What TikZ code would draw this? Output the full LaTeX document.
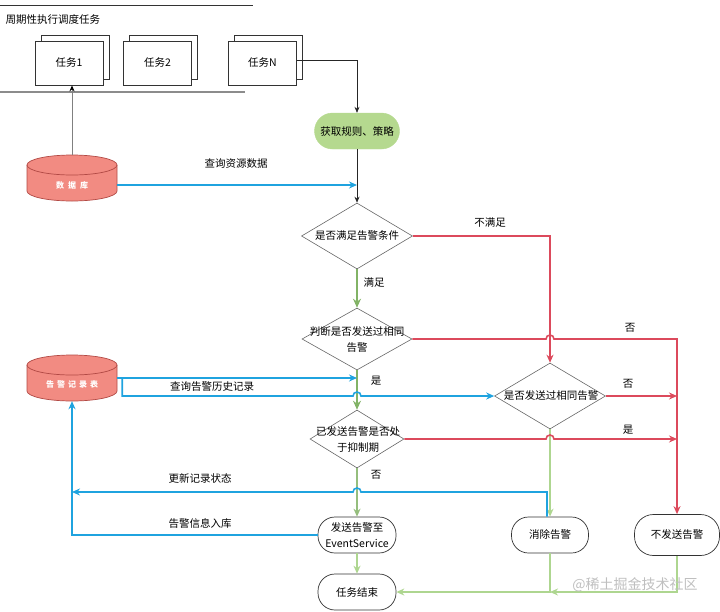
\documentclass[tikz,border=0pt]{standalone}
\usepackage{fontspec}
\setmainfont{Noto Sans CJK SC}
\usetikzlibrary{arrows.meta,shapes.geometric,shadows,calc}
\definecolor{cblue}{HTML}{1FA3DF}
\definecolor{cred}{HTML}{DC4A5C}
\definecolor{cgreen}{HTML}{82B366}
\definecolor{clgreen}{HTML}{AED690}
\definecolor{ccylf}{HTML}{F28B82}
\definecolor{ccyld}{HTML}{B24A45}
\definecolor{crule}{HTML}{B5D98F}
\begin{document}
\begin{tikzpicture}[x=1pt,y=-1pt,
  font=\fontsize{10.5}{16}\selectfont,
  task/.style={draw=black!80, fill=white, line width=0.6pt, minimum width=68pt, minimum height=44pt, inner sep=0pt,
    copy shadow={shadow xshift=6pt, shadow yshift=6pt, fill=white, draw=black!80, line width=0.6pt}},
  term/.style={draw=black!80, fill=white, line width=0.7pt, rounded corners=17pt, minimum width=78pt, minimum height=36pt, inner sep=1pt, align=center},
  dia/.style={diamond, draw=black!60, line width=0.6pt, inner sep=0pt},
  cylbody/.style={fill=ccylf, draw=ccyld, line width=0.7pt},
  cyltext/.style={text=white, font=\fontsize{8}{10}\selectfont\bfseries},
  blk/.style={black!85, line width=0.7pt, -{Stealth[length=6pt,width=5pt]}},
  bluel/.style={cblue, line width=1.6pt, -{Stealth[length=8pt,width=7pt]}},
  redl/.style={cred, line width=1.6pt, -{Stealth[length=8pt,width=7pt]}},
  greenT/.style={cgreen, line width=2.4pt, -{Stealth[length=9pt,width=8pt]}},
  greenM/.style={cgreen!85, line width=1.6pt, -{Stealth[length=8pt,width=7pt]}},
  lgreen/.style={clgreen, line width=1.6pt, -{Stealth[length=8pt,width=7pt]}},
  wm/.style={text=black!25, font=\fontsize{14}{16}\selectfont}
]
\useasboundingbox (0,0) rectangle (720,611);

% header
\draw[black!80, line width=0.7pt] (0,5) -- (253,5);
\node[anchor=west] (title) at (2,20) {周期性执行调度任务};
\node[task] (t1) at (69,63) {任务1};
\node[task] (t2) at (157.5,63) {任务2};
\node[task] (tN) at (262.5,63) {任务N};
\draw[black!45, line width=1.2pt] (0,92) -- (245,92);

% cylinders
\filldraw[cylbody] (27,165) -- (27,191) arc[start angle=180,end angle=360,x radius=45pt,y radius=10pt] -- (117,165) arc[start angle=0,end angle=180,x radius=45pt,y radius=10pt] -- cycle;
\draw[ccyld, line width=0.7pt] (27,165) arc[start angle=180,end angle=360,x radius=45pt,y radius=10pt];
\node[inner sep=0pt, minimum width=90pt, minimum height=46pt] (db) at (72,178) {};
\node[cyltext] (dbt) at (72,185) {数\hspace{4pt}据\hspace{4pt}库};

\filldraw[cylbody] (27,365) -- (27,391) arc[start angle=180,end angle=360,x radius=45pt,y radius=10pt] -- (117,365) arc[start angle=0,end angle=180,x radius=45pt,y radius=10pt] -- cycle;
\draw[ccyld, line width=0.7pt] (27,365) arc[start angle=180,end angle=360,x radius=45pt,y radius=10pt];
\node[inner sep=0pt, minimum width=90pt, minimum height=46pt] (ar) at (72,378) {};
\node[cyltext] (art) at (72,384) {告\hspace{3pt}警\hspace{3pt}记\hspace{3pt}录\hspace{3pt}表};

% flow nodes
\node[fill=crule, draw=crule, rounded corners=18pt, minimum width=85pt, minimum height=36pt, inner sep=1pt] (rule) at (357,131) {获取规则、策略};
\node[dia, minimum width=111pt, minimum height=66pt] (d1) at (357,236) {};
\node[align=center] (d1t) at (357,236) {是否满足告警条件};
\node[dia, minimum width=110pt, minimum height=62pt] (d2) at (357,339) {};
\node[align=center] (d2t) at (357,340) {判断是否发送过相同\\告警};
\node[dia, minimum width=111pt, minimum height=66pt] (d3) at (550,396) {};
\node[align=center] (d3t) at (551,396) {是否发送过相同告警};
\node[dia, minimum width=94pt, minimum height=58pt] (d4) at (357,439) {};
\node[align=center] (d4t) at (358,440) {已发送告警是否处\\于抑制期};
\node[term] (sa) at (357,535) {发送告警至\\EventService};
\node[term] (te) at (357,592) {任务结束};
\node[term, minimum width=77pt] (xc) at (550,535) {消除告警};
\node[term, minimum width=85pt, minimum height=41pt, rounded corners=19pt] (nd) at (677,535) {不发送告警};

% connectors
\draw[black!50, line width=1pt, -{Stealth[black, length=6pt,width=5pt]}] (db.north) -- (db.north |- t1.south);
\draw[blk] ([yshift=3pt]tN.east) -| (rule.north);
\draw[blk] (rule.south) -- (d1.north);
\coordinate (dbo) at ([yshift=-7pt]db.east);
\draw[bluel] (dbo) -- (dbo -| rule.south);
\node (l1) at (236,164) {查询资源数据};

\draw[redl] (d1.east) -| (d3.north);
\node (l2) at (490,223) {不满足};
\draw[greenT] (d1.south) -- (d2.north);
\node (l3) at (374,283) {满足};

\draw[lgreen] (d3.south) -- (xc.north);

\coordinate (h1) at (d3.north |- d2.east);
\draw[redl] (d2.east) -- ([xshift=-4pt]h1) arc[start angle=180,end angle=0,radius=4pt] -| (nd.north);
\node (l4) at (630,328) {否};
\draw[redl] (d3.east) -- (d3.east -| nd.north);
\node (l5) at (628,384) {否};
\coordinate (h2) at (d3.south |- d4.east);
\draw[redl] (d4.east) -- ([xshift=-4pt]h2) arc[start angle=180,end angle=0,radius=4pt] -- (h2 -| nd.north);
\node (l6) at (628,430) {是};

\draw[greenT] (d2.south) -- (d4.north);
\node (l7) at (376,381) {是};
\draw[bluel] (ar.east) -- (ar.east -| d2.south);
\coordinate (br) at ([xshift=5pt]ar.east);
\coordinate (h3) at (d2.south |- d3.west);
\draw[bluel] (br) -- (br |- d3.west) -- ([xshift=-4pt]h3) arc[start angle=180,end angle=0,radius=4pt] -- (d3.west);
\node (l8) at (212,387) {查询告警历史记录};

\draw[greenM] (d4.south) -- (sa.north);
\node (l9) at (376,475) {否};
\coordinate (u0) at ([xshift=-3pt]xc.north);
\coordinate (uy) at (0,492);
\coordinate (h4) at (d4.south |- uy);
\draw[bluel] (u0) -- (u0 |- uy) -- ([xshift=4pt]h4) arc[start angle=0,end angle=180,radius=4pt] -- (ar.south |- uy);
\node (l10) at (200,478) {更新记录状态};
\draw[bluel] (sa.west) -- (ar.south |- sa.west) -- (ar.south);
\node (l11) at (200,523) {告警信息入库};

\draw[lgreen] (sa.south) -- (te.north);
\draw[lgreen] (xc.south) |- (te.east);
\draw[lgreen] (nd.south) |- (xc.south |- te.east);
\node[wm] (wm) at (635,585) {@稀土掘金技术社区};
\end{tikzpicture}
\end{document}
